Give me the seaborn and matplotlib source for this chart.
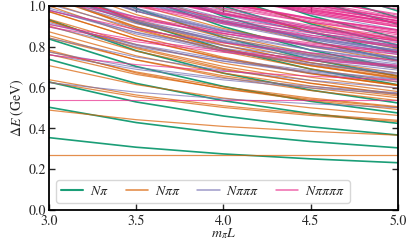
import matplotlib
matplotlib.use("Agg")
import matplotlib.pyplot as plt
from matplotlib.lines import Line2D
import seaborn as sns
import pandas as pd

# m_pi L values at which the levels were read
mpiL = [3.0, 3.5, 4.0, 4.5, 5.0]

# Delta E (GeV) of each level at the mpiL points above
levels_Npi = [
    [0.355, 0.308, 0.275, 0.251, 0.232],
    [0.504, 0.429, 0.376, 0.336, 0.305],
    [0.628, 0.530, 0.461, 0.408, 0.368],
    [0.739, 0.621, 0.536, 0.473, 0.425],
    [0.839, 0.704, 0.606, 0.533, 0.476],
    [0.933, 0.781, 0.671, 0.588, 0.525],
    [1.105, 0.922, 0.790, 0.691, 0.614],
    [1.185, 0.988, 0.846, 0.739, 0.656],
    [1.262, 1.051, 0.899, 0.784, 0.696],
    [1.335, 1.112, 0.950, 0.829, 0.734],
    [1.403, 1.171, 1.000, 0.872, 0.772],
    [1.470, 1.228, 1.048, 0.913, 0.808],
    [1.535, 1.282, 1.095, 0.953, 0.843],
    [1.655, 1.384, 1.183, 1.031, 0.911],
    [1.712, 1.432, 1.224, 1.069, 0.944],
    [1.768, 1.479, 1.265, 1.104, 0.976],
]

levels_Npipi = [
    [0.270, 0.270, 0.270, 0.270, 0.270],
    [0.490, 0.443, 0.410, 0.386, 0.367],
    [0.627, 0.555, 0.503, 0.464, 0.434],
    [0.639, 0.564, 0.511, 0.471, 0.440],
    [0.708, 0.615, 0.549, 0.501, 0.464],
    [0.763, 0.665, 0.596, 0.543, 0.503],
    [0.777, 0.677, 0.604, 0.549, 0.507],
    [0.784, 0.672, 0.594, 0.537, 0.493],
    [0.844, 0.737, 0.658, 0.598, 0.551],
    [0.855, 0.736, 0.650, 0.586, 0.537],
    [0.874, 0.756, 0.671, 0.608, 0.560],
    [0.903, 0.779, 0.689, 0.622, 0.570],
    [0.926, 0.797, 0.704, 0.635, 0.581],
    [0.928, 0.792, 0.694, 0.621, 0.566],
    [0.936, 0.811, 0.720, 0.651, 0.597],
    [0.972, 0.840, 0.744, 0.671, 0.614],
    [0.974, 0.839, 0.741, 0.668, 0.611],
    [1.001, 0.854, 0.749, 0.670, 0.610],
    [1.016, 0.882, 0.783, 0.707, 0.647],
    [1.041, 0.897, 0.791, 0.712, 0.650],
    [1.049, 0.890, 0.777, 0.692, 0.628],
    [1.050, 0.899, 0.790, 0.708, 0.643],
    [1.068, 0.916, 0.806, 0.723, 0.660],
    [1.085, 0.932, 0.821, 0.736, 0.671],
    [1.088, 0.926, 0.809, 0.722, 0.656],
    [1.110, 0.958, 0.846, 0.760, 0.693],
    [1.139, 0.976, 0.857, 0.768, 0.699],
    [1.163, 1.006, 0.890, 0.801, 0.730],
    [1.240, 1.057, 0.925, 0.826, 0.749],
    [1.320, 1.123, 0.981, 0.874, 0.791],
    [1.397, 1.186, 1.034, 0.919, 0.831],
]

levels_N3pi = [
    [0.625, 0.578, 0.545, 0.521, 0.502],
    [0.762, 0.690, 0.638, 0.599, 0.569],
    [0.774, 0.699, 0.646, 0.606, 0.575],
    [0.843, 0.750, 0.684, 0.636, 0.599],
    [0.898, 0.800, 0.731, 0.678, 0.638],
    [0.912, 0.812, 0.739, 0.684, 0.642],
    [0.919, 0.807, 0.729, 0.672, 0.628],
    [0.979, 0.872, 0.793, 0.733, 0.686],
    [0.982, 0.863, 0.778, 0.714, 0.666],
    [0.990, 0.870, 0.785, 0.721, 0.672],
    [1.009, 0.891, 0.806, 0.743, 0.695],
    [1.038, 0.914, 0.824, 0.757, 0.705],
    [1.049, 0.923, 0.832, 0.763, 0.709],
    [1.060, 0.922, 0.824, 0.751, 0.695],
    [1.061, 0.932, 0.840, 0.770, 0.716],
    [1.063, 0.926, 0.828, 0.756, 0.701],
    [1.071, 0.946, 0.855, 0.786, 0.732],
    [1.107, 0.975, 0.879, 0.806, 0.749],
    [1.109, 0.974, 0.876, 0.803, 0.746],
    [1.130, 0.984, 0.879, 0.800, 0.739],
    [1.133, 0.977, 0.867, 0.786, 0.724],
    [1.136, 0.989, 0.884, 0.806, 0.745],
    [1.151, 1.017, 0.918, 0.842, 0.782],
    [1.176, 1.027, 0.918, 0.836, 0.772],
    [1.176, 1.032, 0.926, 0.847, 0.785],
    [1.184, 1.025, 0.912, 0.827, 0.763],
    [1.185, 1.034, 0.925, 0.842, 0.778],
    [1.199, 1.045, 0.933, 0.848, 0.783],
    [1.203, 1.051, 0.941, 0.858, 0.795],
    [1.206, 1.041, 0.923, 0.837, 0.768],
    [1.220, 1.067, 0.956, 0.871, 0.806],
    [1.255, 1.085, 0.963, 0.872, 0.802],
    [1.266, 1.105, 0.987, 0.896, 0.826],
    [1.276, 1.095, 0.966, 0.870, 0.797],
    [1.277, 1.104, 0.978, 0.885, 0.812],
    [1.375, 1.192, 1.060, 0.961, 0.884],
    [1.455, 1.258, 1.116, 1.009, 0.926],
]

levels_N4pi = [
    [0.540, 0.540, 0.540, 0.540, 0.540],
    [0.760, 0.713, 0.680, 0.656, 0.637],
    [0.897, 0.825, 0.773, 0.734, 0.704],
    [0.909, 0.834, 0.781, 0.741, 0.710],
    [0.978, 0.885, 0.819, 0.771, 0.734],
    [1.033, 0.935, 0.866, 0.813, 0.773],
    [1.047, 0.947, 0.874, 0.819, 0.777],
    [1.054, 0.942, 0.864, 0.807, 0.763],
    [1.114, 1.007, 0.928, 0.868, 0.821],
    [1.116, 0.998, 0.913, 0.849, 0.801],
    [1.125, 1.005, 0.920, 0.856, 0.807],
    [1.144, 1.026, 0.941, 0.878, 0.830],
    [1.173, 1.049, 0.959, 0.892, 0.840],
    [1.184, 1.058, 0.967, 0.898, 0.844],
    [1.195, 1.057, 0.959, 0.886, 0.830],
    [1.196, 1.067, 0.975, 0.905, 0.851],
    [1.198, 1.061, 0.963, 0.891, 0.836],
    [1.206, 1.081, 0.990, 0.921, 0.867],
    [1.242, 1.110, 1.014, 0.941, 0.884],
    [1.244, 1.109, 1.011, 0.938, 0.881],
    [1.253, 1.110, 1.006, 0.928, 0.867],
    [1.265, 1.119, 1.014, 0.935, 0.874],
    [1.268, 1.112, 1.002, 0.921, 0.859],
    [1.271, 1.125, 1.019, 0.941, 0.880],
    [1.286, 1.152, 1.053, 0.977, 0.917],
    [1.311, 1.167, 1.061, 0.982, 0.920],
    [1.311, 1.162, 1.053, 0.971, 0.907],
    [1.319, 1.160, 1.047, 0.963, 0.898],
    [1.320, 1.169, 1.060, 0.977, 0.914],
    [1.334, 1.180, 1.068, 0.983, 0.918],
    [1.335, 1.170, 1.052, 0.965, 0.898],
    [1.338, 1.186, 1.076, 0.993, 0.930],
    [1.341, 1.176, 1.058, 0.971, 0.903],
    [1.355, 1.202, 1.091, 1.006, 0.941],
    [1.358, 1.196, 1.079, 0.993, 0.926],
    [1.390, 1.220, 1.098, 1.007, 0.937],
    [1.401, 1.216, 1.084, 0.988, 0.915],
    [1.401, 1.240, 1.122, 1.031, 0.961],
    [1.404, 1.231, 1.107, 1.013, 0.941],
    [1.410, 1.227, 1.097, 1.001, 0.927],
    [1.412, 1.239, 1.114, 1.020, 0.947],
    [1.471, 1.292, 1.161, 1.061, 0.984],
    [1.481, 1.282, 1.140, 1.035, 0.955],
]

labels = [r"$N\pi$", r"$N\pi\pi$", r"$N\pi\pi\pi$", r"$N\pi\pi\pi\pi$"]

sns.set_style("ticks")
plt.rcParams["font.family"] = ["STIXGeneral", "DejaVu Serif"]
plt.rcParams["mathtext.fontset"] = "stix"
plt.rcParams["font.size"] = 10

colors = ["#1b9e77", "#d95f02", "#7570b3", "#e7298a"]
widths = [1.2, 0.9, 0.8, 0.8]
alphas = [1.0, 0.7, 0.7, 0.7]

fig = plt.figure(figsize=(4.11, 2.42), dpi=100)
ax = fig.add_axes([0.119, 0.132, 0.849, 0.843])

groups = [levels_Npi, levels_Npipi, levels_N3pi, levels_N4pi]
for g, levels in enumerate(groups):
    rows = []
    for i, lev in enumerate(levels):
        for x, e in zip(mpiL, lev):
            rows.append({"mpiL": x, "dE": e, "level": i})
    df = pd.DataFrame(rows)
    sns.lineplot(data=df, x="mpiL", y="dE", units="level", estimator=None,
                 color=colors[g], lw=widths[g], alpha=alphas[g], ax=ax,
                 legend=False)

ax.set_xlim(3.0, 5.0)
ax.set_ylim(0.0, 1.0)
ax.set_xticks([3.0, 3.5, 4.0, 4.5, 5.0])
ax.set_yticks([0.0, 0.2, 0.4, 0.6, 0.8, 1.0])
ax.tick_params(direction="in", top=True, right=True, length=4, width=1,
               labelsize=10)
ax.tick_params(axis="x", pad=3)
ax.tick_params(axis="y", pad=2)
for s in ax.spines.values():
    s.set_linewidth(1.3)
    s.set_color("black")
ax.set_xlabel(r"$m_\pi L$", labelpad=-1)
ax.set_ylabel(r"$\Delta E$ (GeV)", labelpad=2)

handles = [Line2D([], [], color=colors[g], lw=widths[g] + 0.3, alpha=alphas[g])
           for g in range(4)]
ax.legend(handles, labels, loc="lower left", ncol=4, fontsize=10,
          frameon=True, framealpha=0.9, edgecolor="lightgray",
          handlelength=1.6, handletextpad=0.5, columnspacing=1.2,
          borderaxespad=0.5, borderpad=0.35)

fig.savefig("out.png", dpi=100)
